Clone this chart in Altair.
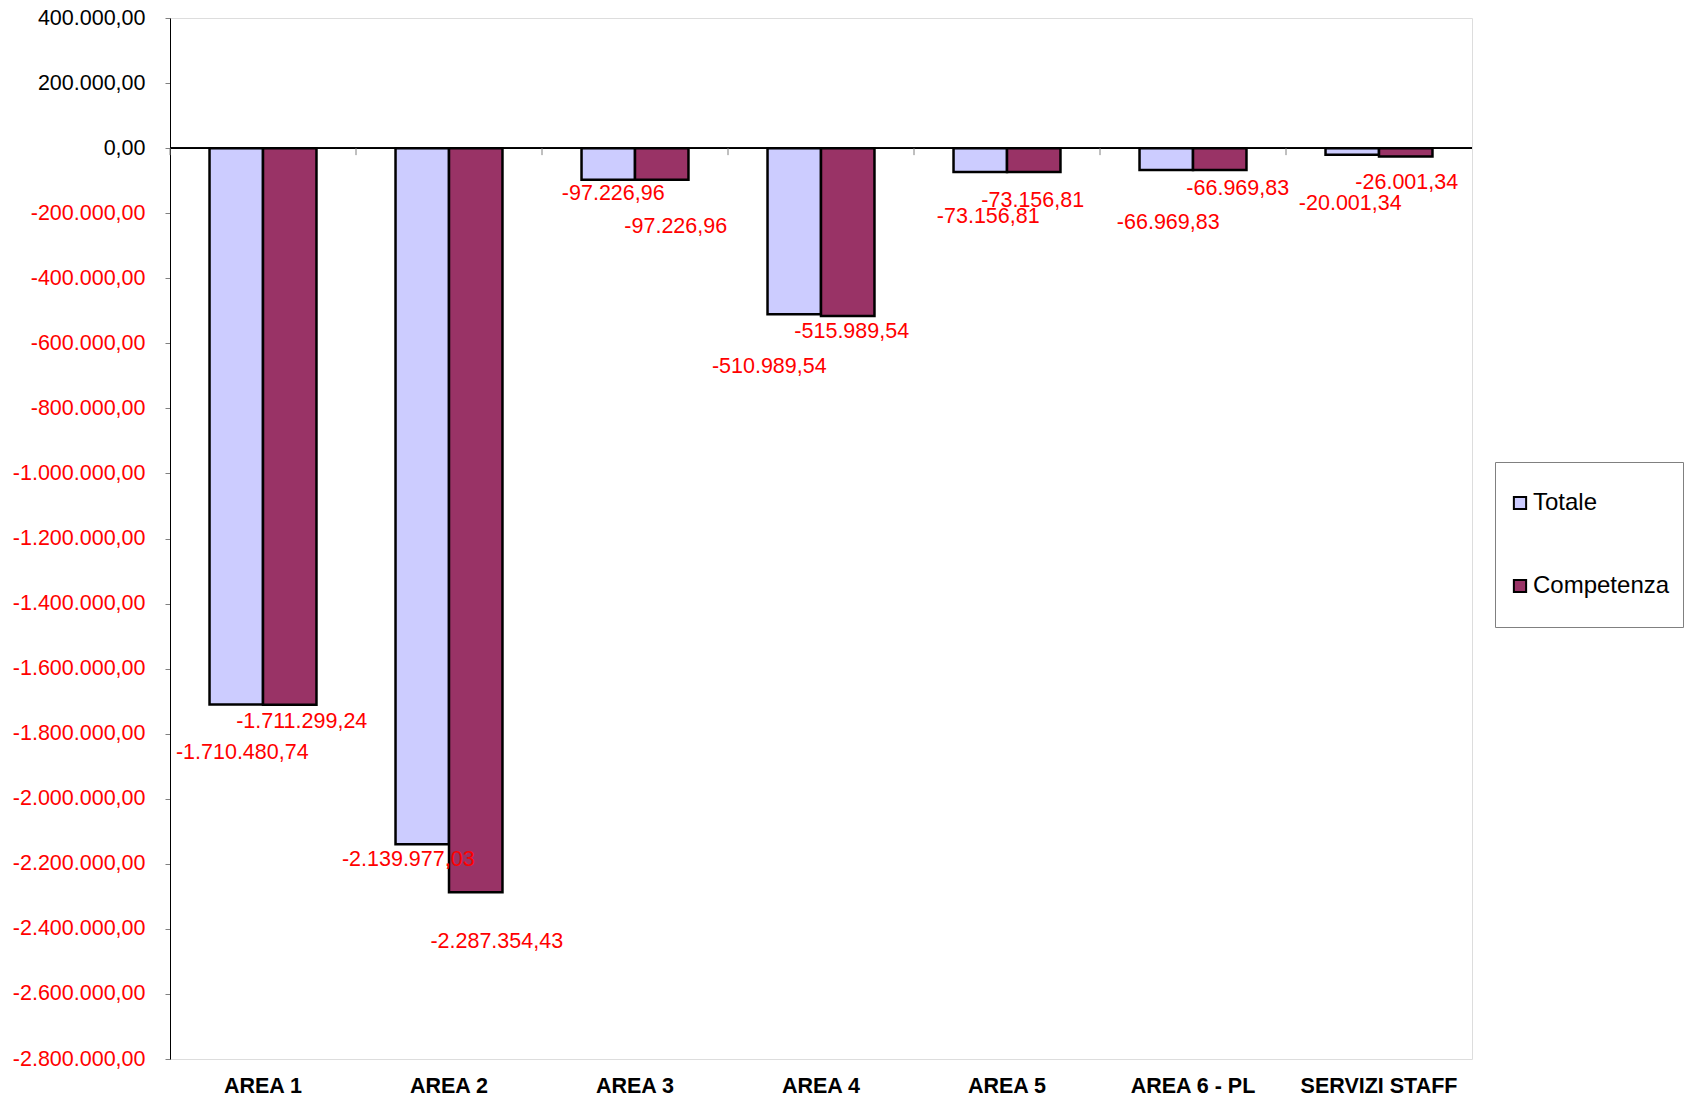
import altair as alt
import pandas as pd

categories = ["AREA 1", "AREA 2", "AREA 3", "AREA 4", "AREA 5", "AREA 6 - PL", "SERVIZI STAFF"]
series_names = ["Totale", "Competenza"]
totale = [-1710480.74, -2139977.03, -97226.96, -510989.54, -73156.81, -66969.83, -20001.34]
competenza = [-1711299.24, -2287354.43, -97226.96, -515989.54, -73156.81, -66969.83, -26001.34]
y_ticks = list(range(-2800000, 400001, 200000))

# label placement (pixel offsets from the bar end), as in the reference
totale_label_offsets = [(6, 48), (-14, 16), (5, 14), (-25, 53), (8, 45), (2, 53), (-2, 49)]
competenza_label_offsets = [(12, 17), (21, 50), (14, 47), (4, 16), (-1, 29), (18, 19), (1, 26)]

FONT = "Liberation Sans"
PAD_INNER = 0.425
PLOT_W = 1302
PLOT_H = 1041


def it_format(v):
    s = f"{abs(v):,.2f}".replace(",", "_").replace(".", ",").replace("_", ".")
    return ("-" if v < 0 else "") + s


rows = []
for c, t, k in zip(categories, totale, competenza):
    rows.append({"cat": c, "series": "Totale", "value": t, "label": it_format(t)})
    rows.append({"cat": c, "series": "Competenza", "value": k, "label": it_format(k)})
df = pd.DataFrame(rows)
df_cats = pd.DataFrame({"cat": categories})

x_axis = alt.Axis(
    title=None, domain=False, ticks=False, grid=False, labelAngle=0,
    labelFont=FONT, labelFontSize=21.5, labelFontWeight="bold", labelColor="black",
    labelPadding=16, labelLimit=300,
)
x_scale = alt.Scale(paddingInner=PAD_INNER, paddingOuter=PAD_INNER / 2)
X = alt.X("cat:N", sort=categories, scale=x_scale, axis=x_axis)
XO = alt.XOffset("series:N", sort=series_names, scale=alt.Scale(paddingInner=0, paddingOuter=0))

label_expr = (
    "(datum.value < 0 ? '-' : '') + replace(replace(replace(format(abs(datum.value), ',.2f'), "
    "regexp(',', 'g'), '_'), regexp('[.]', 'g'), ','), regexp('_', 'g'), '.')"
)
y_axis = alt.Axis(
    title=None, values=y_ticks, labelExpr=label_expr,
    labelFont=FONT, labelFontSize=21.5,
    labelColor={"condition": {"test": "datum.value < 0", "value": "#ff0000"}, "value": "black"},
    labelPadding=20, tickSize=5, tickColor="#808080", domainColor="black", domainWidth=1,
    gridColor={
        "condition": [
            {"test": "datum.value == 400000", "value": "#333333"},
            {"test": "datum.value == -2800000", "value": "#555555"},
        ],
        "value": "#b8b8b8",
    },
    gridWidth=1,
)
Y = alt.Y("value:Q", scale=alt.Scale(domain=[-2800000, 400000], nice=False, zero=False), axis=y_axis)

base = alt.Chart(df)

bars = base.mark_bar(stroke="black", strokeWidth=2.5).encode(
    x=X,
    xOffset=XO,
    y=Y,
    color=alt.Color(
        "series:N", sort=series_names,
        scale=alt.Scale(domain=series_names, range=["#ccccff", "#993366"]),
        legend=alt.Legend(
            title=None, orient="none", legendX=1325, legendY=444,
            padding=13, strokeColor="#808080", fillColor="white",
            labelFont=FONT, labelFontSize=24, labelColor="black", labelOffset=1,
            symbolType="square", symbolSize=150, symbolStrokeColor="black",
            symbolStrokeWidth=2, clipHeight=56, rowPadding=27, cornerRadius=0,
        ),
    ),
)

zero_line = alt.Chart(df_cats).mark_rule(color="black", strokeWidth=1).encode(y=alt.datum(0))

cat_ticks = alt.Chart(df_cats).mark_rule(
    color="#808080", strokeWidth=1, y2Offset=7,
    xOffset=-(PAD_INNER / 2) * PLOT_W / len(categories),
).encode(
    x=alt.X("cat:N", sort=categories, scale=x_scale, axis=x_axis, bandPosition=0),
    y=alt.datum(0),
    y2=alt.datum(0),
)

text_layers = []
for series, offsets in (("Totale", totale_label_offsets), ("Competenza", competenza_label_offsets)):
    for c, (dx, dy) in zip(categories, offsets):
        t = base.transform_filter(
            (alt.datum.cat == c) & (alt.datum.series == series)
        ).mark_text(
            color="#ff0000", font=FONT, fontSize=21.5, dx=dx, dy=dy,
            align="center", baseline="middle",
        ).encode(x=X, xOffset=XO, y=Y, text="label:N")
        text_layers.append(t)

chart = alt.layer(zero_line, bars, cat_ticks, *text_layers).properties(
    width=PLOT_W,
    height=PLOT_H,
    autosize=alt.AutoSizeParams(type="none"),
    padding={"left": 162, "top": 10, "right": 215, "bottom": 40},
).configure_view(stroke="#999999", strokeWidth=1).configure(background="white")

chart.save("out.html", embed_options={"renderer": "svg", "actions": False})
